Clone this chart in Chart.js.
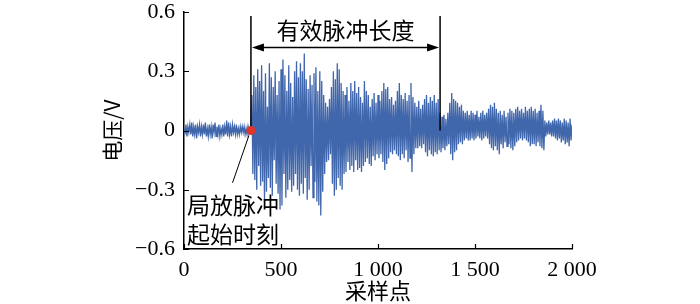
<!DOCTYPE html>
<html>
<head>
<meta charset="utf-8">
<script src="https://cdn.jsdelivr.net/npm/chart.js@4"></script>
<style>
  body { margin: 0; background: #fff; }
  #wrap { width: 700px; height: 304px; }
</style>
</head>
<body>
<div id="wrap"><canvas id="myChart" width="700" height="304"></canvas></div>
<script>
// sample spacing of the values below (every 5th sample)
var sampleStep = 5;

// voltage, 0..2000 samples
var voltage = [
  0.01,-0.02,0.03,-0.03,0.02,-0.01,0.03,-0.02,0.04,-0.03,0.02,-0.02,0.03,-0.04,0.02,-0.01,0.03,-0.03,0.02,-0.02,
  0.03,-0.02,0.04,-0.03,0.01,-0.03,0.03,-0.02,0.02,-0.04,0.03,-0.01,0.04,-0.03,0.02,-0.02,0.03,-0.03,0.01,-0.02,
  0.03,-0.03,0.02,-0.02,0.05,-0.03,0.04,-0.02,0.02,-0.03,0.03,-0.01,0.02,-0.02,0.03,-0.02,0.01,-0.02,0.02,-0.01,
  0.02,-0.01,0.02,-0.02,0.01,-0.02,0.02,-0.01,0.01,0.00,0.18,-0.22,0.28,-0.25,0.22,-0.30,0.31,-0.18,0.25,-0.28,
  0.33,-0.26,0.20,-0.36,0.29,-0.31,0.12,-0.24,0.34,-0.29,0.27,-0.33,0.22,-0.15,0.30,-0.27,0.18,-0.32,0.25,-0.40,
  0.31,-0.38,0.36,-0.22,0.28,-0.34,0.20,-0.30,0.33,-0.25,0.24,-0.31,0.17,-0.28,0.30,-0.22,0.35,-0.30,0.27,-0.33,
  0.34,-0.27,0.30,-0.32,0.39,-0.24,0.26,-0.35,0.21,-0.30,0.28,-0.18,0.23,-0.34,0.29,-0.26,0.32,-0.36,0.20,-0.38,
  0.30,-0.43,0.25,-0.31,0.18,-0.22,0.14,-0.16,0.12,-0.15,0.16,-0.12,0.22,-0.27,0.30,-0.33,0.26,-0.30,0.34,-0.24,
  0.31,-0.28,0.24,-0.30,0.20,-0.22,0.18,-0.21,0.22,-0.16,0.15,-0.20,0.24,-0.18,0.20,-0.21,0.25,-0.15,0.19,-0.20,
  0.22,-0.19,0.17,-0.21,0.14,-0.18,0.25,-0.16,0.20,-0.14,0.18,-0.17,0.12,-0.18,0.16,-0.13,0.19,-0.15,0.14,-0.12,
  0.18,-0.14,0.15,-0.12,0.20,-0.16,0.24,-0.20,0.21,-0.17,0.22,-0.14,0.16,-0.11,0.17,-0.12,0.13,-0.10,0.15,-0.12,
  0.20,-0.13,0.24,-0.15,0.18,-0.12,0.16,-0.14,0.19,-0.10,0.15,-0.16,0.18,-0.14,0.24,-0.21,0.17,-0.12,0.14,-0.09,
  0.12,-0.09,0.15,-0.08,0.11,-0.09,0.13,-0.07,0.16,-0.11,0.18,-0.13,0.14,-0.10,0.17,-0.12,0.15,-0.13,0.18,-0.11,
  0.14,-0.12,0.16,-0.10,0.09,-0.11,0.07,-0.09,0.08,-0.10,0.06,-0.08,0.09,-0.07,0.14,-0.12,0.19,-0.15,0.16,-0.11,
  0.15,-0.10,0.14,-0.07,0.12,-0.06,0.13,-0.07,0.10,-0.05,0.09,-0.04,0.10,-0.05,0.08,-0.05,0.10,-0.04,0.09,-0.05,
  0.08,-0.04,0.10,-0.03,0.07,-0.04,0.09,-0.05,0.10,-0.04,0.08,-0.03,0.09,-0.04,0.11,-0.07,0.13,-0.09,0.12,-0.10,
  0.14,-0.08,0.11,-0.10,0.09,-0.12,0.10,-0.07,0.08,-0.09,0.10,-0.06,0.07,-0.08,0.09,-0.07,0.11,-0.09,0.10,-0.10,
  0.09,-0.08,0.11,-0.06,0.12,-0.05,0.10,-0.04,0.11,-0.05,0.09,-0.04,0.12,-0.05,0.10,-0.06,0.11,-0.08,0.12,-0.07,
  0.10,-0.07,0.11,-0.08,0.09,-0.06,0.10,-0.08,0.13,-0.09,0.10,-0.10,0.05,-0.03,0.04,-0.02,0.05,-0.02,0.04,-0.03,
  0.05,-0.03,0.06,-0.04,0.05,-0.05,0.06,-0.04,0.05,-0.06,0.04,-0.05,0.06,-0.07,0.05,-0.06,0.04,-0.08,0.06,-0.05,
  0.03
];

var xTickValues = [0, 500, 1000, 1500, 2000];
var xTickLabels = ['0', '500', '1 000', '1 500', '2 000'];
var yTickValues = [-0.6, -0.3, 0, 0.3, 0.6];
var yTickLabels = ['\u22120.6', '\u22120.3', '0', '0.3', '0.6'];

var pulseStart = 345;   // 局放脉冲起始时刻
var pulseEnd = 1320;    // 有效脉冲长度 end

var points = voltage.map(function (v, i) { return { x: i * sampleStep, y: v }; });

var latin = '"Liberation Serif", "Times New Roman", "Noto Sans CJK SC", serif';

function tickLabel(values, labels) {
  return function (value) {
    for (var i = 0; i < values.length; i++) {
      if (Math.abs(values[i] - value) < 1e-6) return labels[i];
    }
    return '';
  };
}

// short tick marks pointing into the plot
var innerTicks = {
  id: 'innerTicks',
  afterDraw: function (chart) {
    var ctx = chart.ctx, area = chart.chartArea;
    var xs = chart.scales.x, ys = chart.scales.y;
    ctx.save();
    ctx.strokeStyle = '#000';
    ctx.lineWidth = 1.2;
    ctx.beginPath();
    xTickValues.forEach(function (v) {
      var px = Math.round(xs.getPixelForValue(v)) + 0.5;
      ctx.moveTo(px, area.bottom);
      ctx.lineTo(px, area.bottom - 5);
    });
    yTickValues.forEach(function (v) {
      var py = Math.round(ys.getPixelForValue(v)) + 0.5;
      ctx.moveTo(area.left, py);
      ctx.lineTo(area.left + 5, py);
    });
    ctx.stroke();
    ctx.restore();
  }
};

// pulse-length markers, arrow, red dot and the text notes
var notes = {
  id: 'notes',
  afterDatasetsDraw: function (chart) {
    var ctx = chart.ctx;
    var xs = chart.scales.x, ys = chart.scales.y;
    var x1 = xs.getPixelForValue(pulseStart);
    var x2 = xs.getPixelForValue(pulseEnd);
    var yTop = ys.getPixelForValue(0.58);
    var yZero = ys.getPixelForValue(0);
    var yArrow = ys.getPixelForValue(0.42);

    ctx.save();
    ctx.strokeStyle = '#000';
    ctx.fillStyle = '#000';
    ctx.lineWidth = 1.5;
    ctx.beginPath();
    ctx.moveTo(x1, yTop); ctx.lineTo(x1, yZero);
    ctx.moveTo(x2, yTop); ctx.lineTo(x2, yZero);
    ctx.moveTo(x1 + 10, yArrow); ctx.lineTo(x2 - 10, yArrow);
    ctx.stroke();

    ctx.beginPath();
    ctx.moveTo(x1 + 1, yArrow); ctx.lineTo(x1 + 13, yArrow - 4); ctx.lineTo(x1 + 13, yArrow + 4); ctx.closePath();
    ctx.moveTo(x2 - 1, yArrow); ctx.lineTo(x2 - 13, yArrow - 4); ctx.lineTo(x2 - 13, yArrow + 4); ctx.closePath();
    ctx.fill();

    ctx.font = '23px "Noto Sans CJK SC"';
    ctx.textAlign = 'center';
    ctx.textBaseline = 'middle';
    ctx.fillText('有效脉冲长度', (x1 + x2) / 2, ys.getPixelForValue(0.505));

    // leader line to the start note
    ctx.lineWidth = 1;
    ctx.beginPath();
    ctx.moveTo(x1 - 2, yZero + 5);
    ctx.lineTo(xs.getPixelForValue(250), ys.getPixelForValue(-0.265));
    ctx.stroke();

    ctx.textAlign = 'left';
    ctx.fillText('局放脉冲', xs.getPixelForValue(15), ys.getPixelForValue(-0.38));
    ctx.fillText('起始时刻', xs.getPixelForValue(15), ys.getPixelForValue(-0.525));

    ctx.fillStyle = '#e3342a';
    ctx.beginPath();
    ctx.arc(x1, yZero, 4.5, 0, Math.PI * 2);
    ctx.fill();
    ctx.restore();
  }
};

var ctx = document.getElementById('myChart').getContext('2d');

var myChart = new Chart(ctx, {
  type: 'line',
  data: {
    datasets: [{
      label: '电压',
      data: points,
      borderColor: '#4066ab',
      borderWidth: 1.3,
      pointRadius: 0,
      tension: 0,
      fill: false
    }]
  },
  options: {
    responsive: false,
    animation: false,
    events: [],
    layout: { padding: { left: 99, right: 128, top: 12, bottom: 0 } },
    plugins: {
      legend: { display: false },
      tooltip: { enabled: false }
    },
    scales: {
      x: {
        type: 'linear',
        min: 0,
        max: 2000,
        afterBuildTicks: function (scale) {
          scale.ticks = xTickValues.map(function (v) { return { value: v }; });
        },
        afterFit: function (scale) {
          scale.height = 55;
          scale.paddingLeft = 0;
          scale.paddingRight = 0;
        },
        grid: { display: false, drawTicks: false },
        border: { display: true, color: '#000', width: 1.5 },
        ticks: {
          color: '#000',
          padding: 8,
          maxRotation: 0,
          autoSkip: false,
          font: { family: latin, size: 22 },
          callback: tickLabel(xTickValues, xTickLabels)
        },
        title: {
          display: true,
          text: '采样点',
          color: '#000',
          padding: 0,
          font: { family: '"Noto Sans CJK SC"', size: 22 }
        }
      },
      y: {
        type: 'linear',
        min: -0.6,
        max: 0.6,
        afterBuildTicks: function (scale) {
          scale.ticks = yTickValues.map(function (v) { return { value: v }; });
        },
        afterFit: function (scale) {
          scale.width = 85;
          scale.paddingTop = 0;
          scale.paddingBottom = 0;
        },
        grid: { display: false, drawTicks: false },
        border: { display: true, color: '#000', width: 1.5 },
        ticks: {
          color: '#000',
          padding: 9,
          autoSkip: false,
          font: { family: latin, size: 22 },
          callback: tickLabel(yTickValues, yTickLabels)
        },
        title: {
          display: true,
          text: '电压/V',
          color: '#000',
          padding: 0,
          font: { family: '"Noto Sans CJK SC", ' + latin, size: 21 }
        }
      }
    }
  },
  plugins: [innerTicks, notes]
});
</script>
</body>
</html>
